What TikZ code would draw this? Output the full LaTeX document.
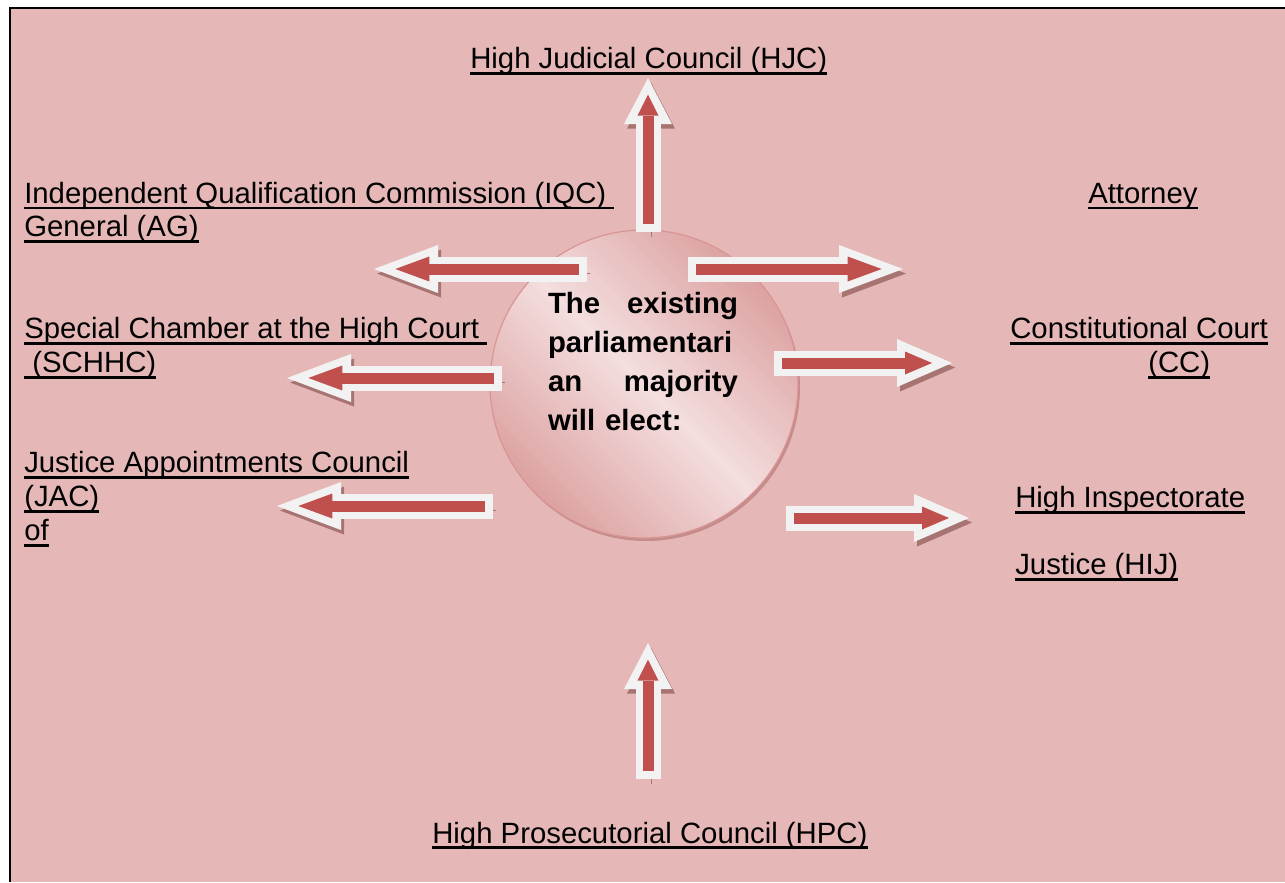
\documentclass[tikz,border=0pt]{standalone}
\usepackage{fontspec}
\setmainfont{Liberation Sans}
\usetikzlibrary{arrows.meta}

\definecolor{bgpink}{HTML}{E5B8B7}
\definecolor{arrowred}{HTML}{C0504D}
\definecolor{rimwhite}{HTML}{F2F2F2}
\definecolor{arrowshade}{HTML}{A87472}
\definecolor{ringlight}{HTML}{F4DEDE}
\definecolor{ringdark}{HTML}{DCA0A0}
\definecolor{ringedge}{HTML}{D99594}
\definecolor{ringshade}{HTML}{C48C8B}

% underline at a fixed depth, through the descenders
\newcommand{\ulabel}[1]{\setbox0=\hbox{#1}\rlap{\rule[-4.5pt]{\wd0}{1.9pt}}\box0}

\tikzset{
    lab/.style = {anchor = base west, inner sep = 0pt,
        font = \fontsize{22pt}{25.5pt}\selectfont},
    ringshadow/.style = {circle, minimum size = 231pt, inner sep = 0pt, fill = ringshade},
    ring/.style = {circle, minimum size = 231pt, inner sep = 0pt},
    rimarrow/.style n args = {4}{draw = rimwhite, line width = 18.75pt,
        -{Triangle[length = #1, width = 36pt, line width = 0pt]},
        preaction = {draw = arrowshade, transform canvas = {shift = {(2.25pt, -3.4pt)}}},
        postaction = {draw = arrowred, line width = 8.25pt,
            -{Triangle[length = #2, width = #3, line width = 0pt]},
            shorten > = #4, shorten < = 6pt}},
    longhead/.style = {rimarrow = {48pt}{25.5pt}{18.75pt}{16pt}},
    shorthead/.style = {rimarrow = {41.25pt}{20.25pt}{17.25pt}{15pt}},
    uphead/.style = {rimarrow = {34.5pt}{15.75pt}{15.75pt}{12.4pt}}
}

\begin{document}
\begin{tikzpicture}[x = 0.75pt, y = -0.75pt]
    \useasboundingbox (0, 0) rectangle (1285, 882);
    \fill[bgpink] (10, 8) rectangle (1285, 882);
    \draw[line width = 1.6pt] (10, 882) -- (10, 8) -- (1285, 8);

    % the ball in the middle, light along the falling diagonal
    \node[ringshadow] (ring-shadow) at (646, 387) {};
    \node[ring] (ring) at (644, 384) {};
    \begin{scope}
        \clip (ring.center) circle (154);
        \foreach \u in {-162, -156, ..., 162} {
            \pgfmathsetmacro{\lightness}{max(0, 100 - abs(\u) * 100 / 158)}
            \fill[ringlight!\lightness!ringdark, shift = {(ring.center)}, rotate = 45]
                (\u - 3.4, -170) rectangle (\u + 3.4, 170);
        }
    \end{scope}
    \draw[ringedge, line width = 0.9pt] (ring.center) circle (154);
    \node[inner sep = 0pt, text width = 142.5pt, align = left,
        font = \fontsize{22pt}{29.25pt}\selectfont\bfseries] (elect) at (643, 362)
        {\makebox[142.5pt]{The\hfill existing}\\ parliamentari\\
         \makebox[142.5pt]{an\hfill majority}\\ will elect:};

    % ends of the block arrows
    \coordinate (hjc-tail) at (648, 232);   \coordinate (hjc-tip) at (648, 78);
    \coordinate (iqc-tail) at (587, 269);   \coordinate (iqc-tip) at (374, 269);
    \coordinate (ag-tail) at (688, 269);    \coordinate (ag-tip) at (903, 269);
    \coordinate (schhc-tail) at (502, 378); \coordinate (schhc-tip) at (287, 378);
    \coordinate (cc-tail) at (774, 363);    \coordinate (cc-tip) at (952, 363);
    \coordinate (jac-tail) at (493, 506);   \coordinate (jac-tip) at (277, 506);
    \coordinate (hij-tail) at (786, 518);   \coordinate (hij-tip) at (969, 518);
    \coordinate (hpc-tail) at (648, 779);   \coordinate (hpc-tip) at (648, 643);

    \draw[uphead] (hjc-tail) -- (hjc-tip);
    \draw[longhead] (iqc-tail) -- (iqc-tip);
    \draw[longhead] (ag-tail) -- (ag-tip);
    \draw[longhead] (schhc-tail) -- (schhc-tip);
    \draw[shorthead] (cc-tail) -- (cc-tip);
    \draw[longhead] (jac-tail) -- (jac-tip);
    \draw[shorthead] (hij-tail) -- (hij-tip);
    \draw[uphead] (hpc-tail) -- (hpc-tip);

    % labels
    \node[lab] (hjc) at (470, 68.5) {\ulabel{High Judicial Council (HJC)}};
    \node[lab] (iqc) at (24, 203.3) {\ulabel{Independent Qualification Commission (IQC)\ }};
    \node[lab] (attorney) at (1088, 203.3) {\ulabel{Attorney}};
    \node[lab] (ag) at ([yshift = -25pt]iqc.base west) {\ulabel{General (AG)}};
    \node[lab] (schhc) at (24, 338.5) {\ulabel{Special Chamber at the High Court\ }};
    \node[lab] (schhc-b) at ([yshift = -25.5pt]schhc.base west) {\ulabel{\ (SCHHC)}};
    \node[lab] (cc) at (1010, 338.5) {\ulabel{Constitutional Court}};
    \node[lab] (cc-b) at (1148, 372.5) {\ulabel{(CC)}};
    \node[lab] (jac) at (24, 472.5) {\ulabel{Justice Appointments Council}};
    \node[lab] (jac-b) at ([yshift = -25.5pt]jac.base west) {\ulabel{(JAC)}};
    \node[lab] (jac-c) at ([yshift = -25.5pt]jac-b.base west) {\ulabel{of}};
    \node[lab] (hij) at (1015, 507.5) {\ulabel{High Inspectorate}};
    \node[lab] (hij-b) at ([yshift = -50.5pt]hij.base west) {\ulabel{Justice (HIJ)}};
    \node[lab] (hpc) at (432, 843) {\ulabel{High Prosecutorial Council (HPC)}};
\end{tikzpicture}
\end{document}
